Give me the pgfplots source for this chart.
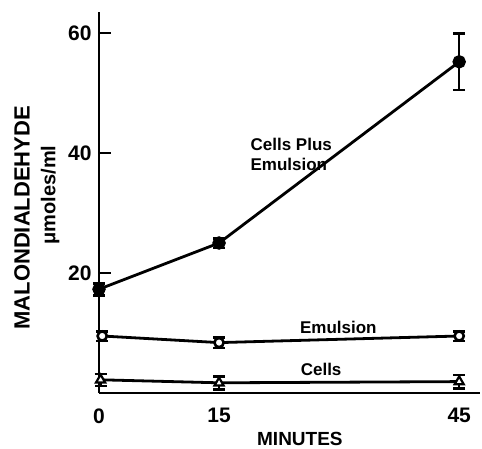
\documentclass[border=0pt]{standalone}
\usepackage{fontspec}
\setmainfont{Liberation Sans}
\usepackage{pgfplots}
\usepackage{pgfplotstable}
\pgfplotsset{compat=1.18}
\pgfplotstableread{
t y e
0 17.3 1.0
15 25.0 0.8
45 55.2 4.7
}\cpe
\pgfplotstableread{
t y e
0.4 9.5 0.8
15 8.4 0.9
45 9.5 0.8
}\emul
\pgfplotstableread{
t y e
0.2 2.2 1.0
15 1.7 1.1
45 1.9 1.1
}\cells
\pgfplotsset{errb/.style={draw=none, mark=none, forget plot,
  error bars/.cd, y dir=both, y explicit,
  error bar style={line width=2.6pt, black},
  error mark options={rotate=90, mark size=6pt, line width=2.6pt, black}}}
\begin{document}
\begin{tikzpicture}
\useasboundingbox (0,0) rectangle (482pt,448pt);
\begin{axis}[
  at={(99pt,55pt)}, anchor=south west,
  scale only axis, width=381pt, height=381pt,
  xmin=0, xmax=47.6, ymin=0, ymax=63.5,
  axis lines=left, axis line style={-, line width=2.6pt},
  clip=false,
  xtick={0,15,45}, ytick={20,40,60},
  tick style={line width=2.2pt, black},
  ytick align=inside, major tick length=12pt,
  x tick style={draw=none},
  /pgf/number format/assume math mode=true,
  ticklabel style={font=\fontsize{21}{24}\selectfont\bfseries},
  xticklabel style={yshift=-6pt},
  yticklabel style={xshift=-4pt},
  every axis plot/.append style={line width=2.8pt, black},
]
\addplot[errb] table[x=t, y=y, y error=e] {\cpe};
\addplot[errb] table[x=t, y=y, y error=e] {\emul};
\addplot[errb] table[x=t, y=y, y error=e] {\cells};
\addplot[mark=*, mark size=5.3pt, mark options={fill=black, solid}] table[x=t,y=y] {\cpe};
\addplot[mark=*, mark size=4.6pt, mark options={fill=white, solid, line width=2.6pt}] table[x=t,y=y] {\emul};
\addplot[mark=triangle*, mark size=5.2pt, mark options={fill=white, solid, line width=2.2pt}] table[x=t,y=y] {\cells};
\node[anchor=west, align=left, font=\fontsize{17}{20}\selectfont\bfseries] at (axis cs:18.5,39.8) {Cells Plus\\Emulsion};
\node[font=\fontsize{17}{20}\selectfont\bfseries] at (axis cs:29.9,11.0) {Emulsion};
\node[font=\fontsize{17}{20}\selectfont\bfseries] at (axis cs:27.75,4.0) {Cells};
\node[font=\fontsize{19}{22}\selectfont\bfseries] at (axis cs:25.1,-7.6) {MINUTES};
\node[rotate=90, font=\fontsize{22}{26}\selectfont\bfseries] at (axis cs:-9.6,29.2) {MALONDIALDEHYDE};
\node[rotate=90, font=\fontsize{20}{24}\selectfont\bfseries] at (axis cs:-6.1,33.0) {μmoles/ml};
\end{axis}
\end{tikzpicture}
\end{document}
